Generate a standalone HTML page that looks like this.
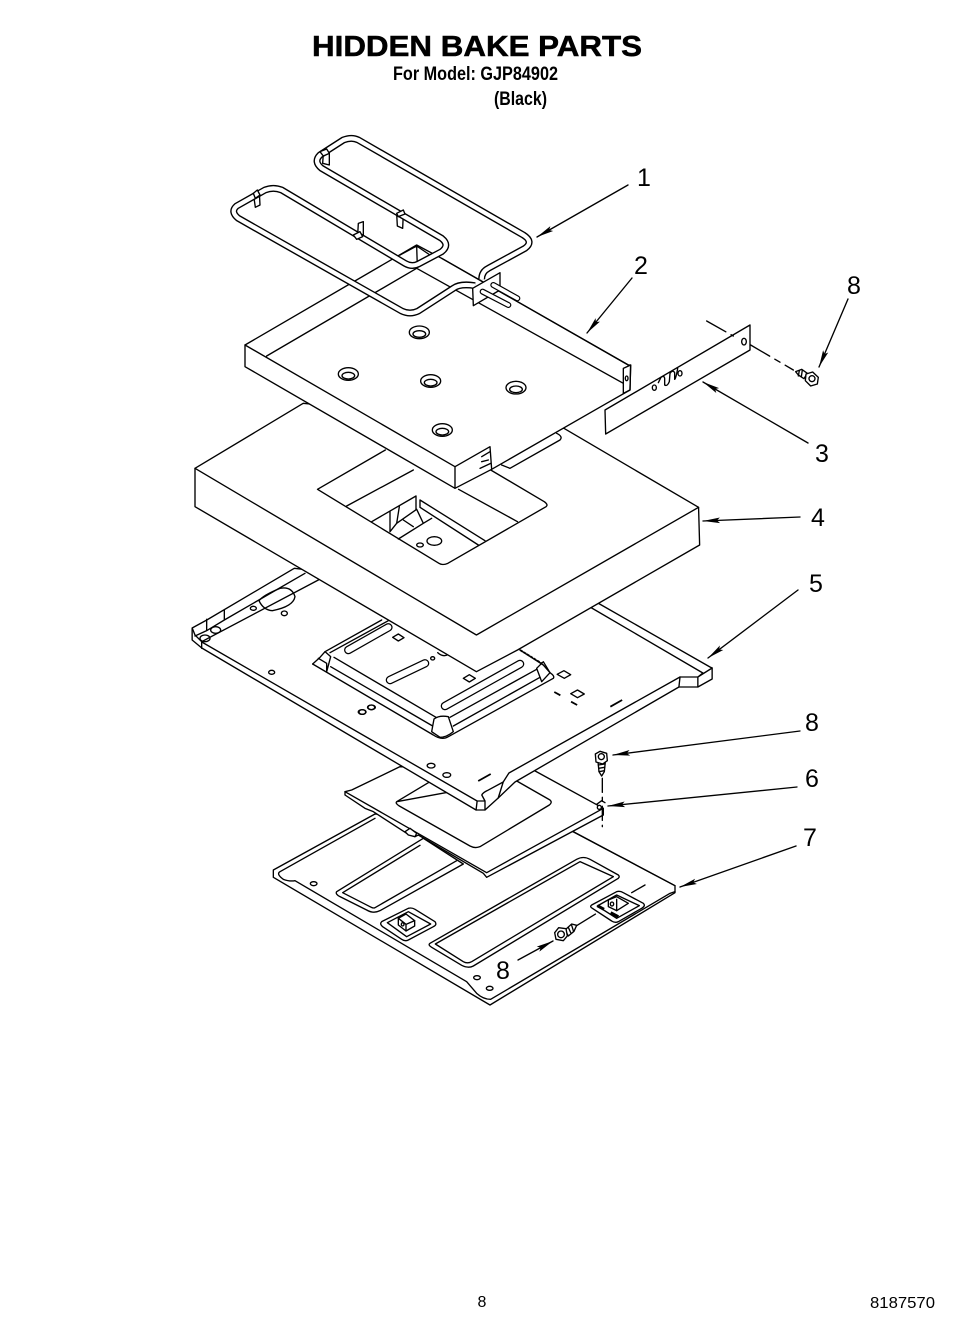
<!DOCTYPE html>
<html><head><meta charset="utf-8"><style>
html,body{margin:0;padding:0;background:#fff}
svg{display:block}
svg *{vector-effect:non-scaling-stroke}
.l{fill:none;stroke:#000;stroke-width:1.35;stroke-linejoin:round;stroke-linecap:round}
.w{fill:#fff;stroke:#000;stroke-width:1.35;stroke-linejoin:round}
text{font-family:"Liberation Sans",sans-serif;fill:#000}
.n{font-size:25px;text-anchor:middle}
</style></head><body>
<svg width="965" height="1333" viewBox="0 0 965 1333" xmlns="http://www.w3.org/2000/svg">
<defs>
<marker id="a" markerUnits="userSpaceOnUse" markerWidth="20" markerHeight="10" refX="19" refY="5" orient="auto">
<polygon points="2,2.2 19,5 2,7.8 5,5" fill="#000"/></marker>
</defs>
<rect width="965" height="1333" fill="#fff"/>

<text x="312" y="56" font-size="29" font-weight="bold" textLength="330" lengthAdjust="spacingAndGlyphs" stroke="#000" stroke-width=".5">HIDDEN BAKE PARTS</text>
<text x="393" y="80" font-size="19.5" font-weight="bold" textLength="165" lengthAdjust="spacingAndGlyphs">For Model: GJP84902</text>
<text x="494" y="105" font-size="19.5" font-weight="bold" textLength="53" lengthAdjust="spacingAndGlyphs">(Black)</text>
<text x="482" y="1307" font-size="16" text-anchor="middle">8</text>
<text x="870" y="1308" font-size="16" textLength="65" lengthAdjust="spacingAndGlyphs">8187570</text>

<!-- Part 7 -->
<g transform="translate(260,740) scale(.33333)">
<path class="w" d="M40,390 L345,222 L930,270 L1245,437 L1245,458 L690,795 L40,412 Z"/>
<path class="l" d="M345,235 L60,395 Q48,402 70,418 Q90,425 105,422 L620,725 L650,760 Q670,778 692,778 L1230,460 L1245,455"/>
<path class="l" d="M930,270 L1245,437"/>
<path class="w" d="M230,455 L490,295 L610,372 L360,512 Q340,522 320,510 L240,470 Q225,462 230,455 Z"/>
<path class="l" d="M248,458 L480,316 M345,503 Q340,506 330,500 L248,458 M345,503 L590,362"/>
<path class="w" d="M510,610 L950,358 Q970,347 990,358 L1075,405 Q1082,412 1070,418 L640,678 Q625,686 605,676 L515,622 Q503,615 510,610 Z"/>
<path class="l" d="M526,612 L960,365 L1060,410 L635,665 Q622,672 610,665 Z"/>
<path class="w" d="M365,545 L445,505 Q455,502 465,508 L525,545 Q532,555 520,560 L445,600 Q435,605 425,598 L368,560 Q358,552 365,545 Z"/>
<path class="l" d="M382,548 L445,515 L512,552 L440,590 Z"/>
<path class="w" d="M415,535 L438,522 L464,542 L464,558 L438,573 L415,555 Z"/>
<path class="l" d="M415,535 L438,553 L438,573 M438,553 L464,542"/><ellipse class="l" cx="428" cy="553" rx="4" ry="5"/>
<path class="w" d="M995,495 L1070,455 Q1080,452 1090,458 L1150,490 Q1158,497 1145,505 L1075,545 Q1065,550 1055,543 L997,505 Q988,500 995,495 Z"/>
<path class="l" d="M1012,498 L1070,465 L1138,497 L1070,535 Z"/>
<path class="w" d="M1045,480 L1070,470 L1105,490 L1070,512 L1045,500 Z"/>
<path class="l" d="M1070,478 L1070,512"/><ellipse class="l" cx="1056" cy="492" rx="5" ry="6"/>
<path d="M1012,497 L1032,508 M1052,518 L1075,530" stroke="#000" stroke-width="3" fill="none"/>
<ellipse class="l" cx="161" cy="431" rx="10" ry="6"/><ellipse class="l" cx="651" cy="713" rx="10" ry="6"/><ellipse class="l" cx="689" cy="745" rx="10" ry="6"/>
<path class="l" d="M945,560 L1010,520 M1115,458 L1155,435" stroke-dasharray="24 6 6 6"/>
</g>

<!-- Part 6 -->
<g transform="translate(260,740) scale(.33333)">
<path class="w" d="M255,155 L275,150 L420,80 L820,90 L1030,205 L1030,225 L680,412 L670,400 L475,285 L465,290 L440,280 L340,215 L315,205 L255,165 Z"/>
<path class="l" d="M255,155 L680,398 L1030,205"/>
<path class="l" d="M410,185 L510,125 M765,120 L870,180 Q878,187 868,195 L660,320 Q645,326 630,318 L418,198 Q405,190 410,185 Z"/>
<path class="w" d="M435,275 L450,265 L470,280 L465,290 L445,285 Z"/>
<circle class="w" cx="1018" cy="202" r="6"/><path class="l" d="M1010,193 L1025,182 L1035,188"/>
<path class="l" d="M1027,115 L1027,260" stroke-dasharray="14 5 4 5"/>
</g>

<!-- Part 5 -->
<g transform="translate(180,400) scale(.35714,.33333)">
<path class="w" d="M34,684 L75,660 L320,505 L1170,609 L1484,801 L1490,804 L1490,837 L1450,861 L1397,861 L938,1146 L891,1194 L854,1230 L829,1230 L61,744 L34,720 Z"/>
<path class="l" d="M61,726 L832,1203 L854,1203 L854,1230 M832,1203 L829,1230 M854,1203 L845,1185 Q848,1178 860,1172 L905,1146 L921,1119 L1400,831 M905,1146 L891,1194"/>
<path class="l" d="M1148,621 L1464,819 L1450,831 L1400,831 L1397,861 M1450,831 L1450,861 M1450,831 L1490,804"/>
<ellipse class="l" cx="510" cy="936" rx="11" ry="7"/><ellipse class="l" cx="536" cy="922" rx="11" ry="7"/>
<ellipse class="l" cx="703" cy="1097" rx="11" ry="7"/><ellipse class="l" cx="747" cy="1125" rx="11" ry="7"/>
<path class="l" d="M1075,812 L1094,824 L1076,835 L1056,823 Z M1113,870 L1132,882 L1113,893 L1094,881 Z"/>
<path d="M1048,876 L1065,886 M1095,905 L1112,915 M1205,920 L1238,900 M835,1143 L870,1122" stroke="#000" stroke-width="1.8" fill="none"/>
</g>
<!-- Part 5 left rail -->
<g transform="translate(185,560) scale(.33333)">
<path class="l" d="M22,205 L30,225 L50,245 L50,265"/>
<path class="l" d="M65,178 L65,212 M118,150 L118,180 M65,212 L30,228 M65,212 L118,180 L360,40 M50,245 L400,60"/>
<path class="l" d="M222,122 Q235,105 285,85 Q320,78 330,110 Q325,140 262,152 Q235,150 222,122 Z"/>
<ellipse class="l" cx="92" cy="210" rx="15" ry="10"/><ellipse class="l" cx="60" cy="235" rx="15" ry="10"/>
<ellipse class="l" cx="205" cy="145" rx="9" ry="6"/><ellipse class="l" cx="298" cy="160" rx="9" ry="7"/><ellipse class="l" cx="260" cy="337" rx="9" ry="6"/>
</g>
<!-- Part 5 recessed panel -->
<g transform="translate(310,620) scale(.33333)">
<path class="l" d="M8,132 L30,112 L45,95 L215,0 M60,98 L235,2"/>
<path class="l" d="M8,132 L370,345 Q395,362 415,350 L730,175 Q735,168 720,158 L700,135 L630,90"/>
<path class="l" d="M62,140 L368,318 M72,112 L385,296 M430,318 L690,172 M420,292 L680,148"/>
<path class="l" d="M25,115 L50,130 L50,155 M45,95 L62,110 L50,155 M680,145 L695,185 M680,145 L700,125 L720,158 M695,185 L720,158"/>
<path class="w" d="M372,297 Q388,285 415,290 L430,335 Q410,352 390,352 L365,335 Z"/>
<path d="M630,90 L695,130" stroke="#000" stroke-width="1.8" fill="none" stroke-dasharray="3 1"/>
<g stroke-linecap="round" fill="none">
<path d="M115,90 L235,22 M240,180 L345,130 M405,258 L630,132" stroke="#000" stroke-width="8.5"/>
<path d="M115,90 L235,22 M240,180 L345,130 M405,258 L630,132" stroke="#fff" stroke-width="6"/>
</g>
<path class="l" d="M265,42 L282,53 L265,63 L248,52 Z M478,164 L496,175 L478,186 L460,175 Z"/>
<ellipse cx="368" cy="115" rx="6" ry="5" class="l"/>
<path class="l" d="M383,98 Q398,112 414,104"/>
<ellipse class="l" cx="157" cy="276" rx="10" ry="7"/><ellipse class="l" cx="184" cy="262" rx="10" ry="7"/>
</g>

<!-- Part 4 -->
<g transform="translate(180,400) scale(.35714,.33333)">
<path class="w" d="M42,205 L345,10 L1075,85 L1452,322 L1455,435 L945,750 L830,815 L42,320 Z"/>
<path class="l" d="M42,205 L830,705 L1452,322"/>
<path class="l" d="M575,150 L385,268 L725,490 Q735,497 750,490 L1025,320 Q1032,314 1020,305 L870,210"/>
<path class="l" d="M780,268 L945,365"/>
</g>
<g transform="translate(340,470) scale(.33333)">
<path class="l" d="M20,108 L220,0"/>
<path class="l" d="M95,155 L228,78 L228,118 M240,90 L240,112 M240,90 L435,212 M240,112 L415,225"/>
<path class="l" d="M150,125 L150,185 M178,110 L170,160 L150,185 M190,150 L220,170 M230,118 L250,160 L175,207 M170,160 L230,118 M250,160 L275,145"/>
<ellipse class="l" cx="283" cy="213" rx="22" ry="13"/><ellipse class="l" cx="240" cy="225" rx="10" ry="6"/>
</g>

<!-- Part 2 -->
<g transform="translate(180,120) scale(.33333)">
<path class="l" d="M965,1035 L990,1045 L1140,960 Q1150,950 1130,940"/>
<path class="w" d="M195,675 L710,375 L785,415 L1345,735 L1352,735 L1350,810 L1280,850 L935,1048 L825,1105 L195,740 Z"/>
<path class="l" d="M195,675 L825,1040 L825,1105 M825,1040 L930,980 L935,1048 M260,708 L710,445 L1330,790 M785,415 L1345,735 M660,405 L710,378 L750,405 M710,378 L712,440"/>
<path class="l" d="M1330,745 L1352,735 L1350,810 L1330,820 Z"/><ellipse class="l" cx="1340" cy="775" rx="4" ry="7"/>
<path class="l" d="M905,1010 L930,995 M905,1025 L925,1020 M900,1045 L932,1030" stroke-width="2"/>
<ellipse class="l" cx="718" cy="637" rx="30" ry="19"/><ellipse class="l" cx="718" cy="642" rx="19" ry="10"/>
<ellipse class="l" cx="505" cy="762" rx="30" ry="19"/><ellipse class="l" cx="505" cy="767" rx="19" ry="10"/>
<ellipse class="l" cx="752" cy="783" rx="30" ry="19"/><ellipse class="l" cx="752" cy="788" rx="19" ry="10"/>
<ellipse class="l" cx="1008" cy="803" rx="30" ry="19"/><ellipse class="l" cx="1008" cy="808" rx="19" ry="10"/>
<ellipse class="l" cx="787" cy="930" rx="30" ry="19"/><ellipse class="l" cx="787" cy="935" rx="19" ry="10"/>

<!-- Heater -->
<path class="l" d="M220,220 L226,262 L240,255 L238,218 M535,310 L533,345 L550,348 L550,305 Z M650,280 L652,318 L668,325 L670,280 M430,100 L428,130 L448,135 L448,95"/>
<g fill="none" stroke-linejoin="round" stroke-linecap="butt">
<path d="M905,478 Q905,455 925,445 L1035,385 Q1062,365 1030,345 L535,60 Q515,50 490,60 L420,105 Q400,125 425,145 L785,355 Q810,375 785,395 L715,432 Q695,442 675,430 L305,210 Q280,200 255,210 L170,258 Q150,275 175,295 L665,573 Q690,585 715,573 L820,505 Q840,490 885,497" stroke="#000" stroke-width="7"/>
<path d="M905,478 Q905,455 925,445 L1035,385 Q1062,365 1030,345 L535,60 Q515,50 490,60 L420,105 Q400,125 425,145 L785,355 Q810,375 785,395 L715,432 Q695,442 675,430 L305,210 Q280,200 255,210 L170,258 Q150,275 175,295 L665,573 Q690,585 715,573 L820,505 Q840,490 885,497" stroke="#fff" stroke-width="4.2"/>
</g>
<path class="w" d="M220,220 L232,210 L240,225 L226,235 Z M520,345 L540,335 L548,350 L530,358 Z M420,95 L440,87 L448,100 L430,108 Z M650,280 L670,270 L675,282 L655,290 Z"/>
<path class="w" d="M878,505 L960,458 L960,510 L880,557 Z"/>
<g stroke-linecap="round" fill="none">
<path d="M908,515 L985,555 M940,495 L1012,535" stroke="#000" stroke-width="6"/>
<path d="M908,515 L985,555 M940,495 L1012,535" stroke="#fff" stroke-width="3.6"/>
</g>
</g>

<!-- Part 3 -->
<g transform="translate(590,260) scale(.33333)">
<path class="w" d="M45,450 L480,195 L480,270 L47,522 Z"/>
<ellipse class="l" cx="462" cy="245" rx="7" ry="10"/><ellipse class="l" cx="193" cy="383" rx="6" ry="8"/><ellipse class="l" cx="270" cy="340" rx="6" ry="8"/>
<path class="l" d="M205,368 L213,352 Q222,345 224,355 L224,375 Q232,380 238,365 L240,340 Q248,328 254,338 L254,358 Q258,355 263,325"/>
<path class="l" d="M350,183 L430,228" stroke-dasharray="22 6 6 6"/>
<path class="l" d="M482,255 L610,330" stroke-dasharray="22 6 6 6"/>
<path class="w" d="M617,335 L635,328 L652,340 L642,356 L625,345 Z"/>
<path class="l" d="M628,332 L625,348 M637,330 L634,350"/>
<path class="w" d="M648,342 L668,336 L685,352 L682,372 L662,378 L646,362 Z"/>
<circle class="l" cx="666" cy="356" r="9"/>
</g>
<!-- Screws mid and low -->
<g transform="translate(260,740) scale(.33333)">
<path class="w" d="M1014,65 L1036,65 L1033,95 L1025,108 L1017,95 Z"/>
<path class="l" d="M1015,75 L1035,72 M1016,85 L1034,82 M1017,95 L1033,92"/>
<path class="w" d="M1006,42 L1020,34 L1040,40 L1042,62 L1028,72 L1008,66 Z"/>
<circle class="l" cx="1024" cy="50" r="9"/>
<path class="w" d="M915,570 L935,552 L950,556 L942,574 L925,588 Z"/>
<path class="l" d="M925,562 L932,578 M935,556 L940,572"/>
<path class="w" d="M884,578 L896,563 L918,566 L922,588 L910,602 L888,598 Z"/>
<circle class="l" cx="903" cy="583" r="10"/>
</g>

<!-- Arrows -->
<g class="l">
<line x1="628" y1="185" x2="537" y2="237" marker-end="url(#a)"/>
<line x1="632" y1="278" x2="587" y2="333" marker-end="url(#a)"/>
<line x1="848" y1="299" x2="819" y2="367" marker-end="url(#a)"/>
<line x1="808" y1="443" x2="703" y2="382" marker-end="url(#a)"/>
<line x1="800" y1="517" x2="703" y2="521" marker-end="url(#a)"/>
<line x1="798" y1="590" x2="708" y2="658" marker-end="url(#a)"/>
<line x1="800" y1="731" x2="613" y2="755" marker-end="url(#a)"/>
<line x1="797" y1="787" x2="608" y2="806" marker-end="url(#a)"/>
<line x1="796" y1="846" x2="680" y2="887" marker-end="url(#a)"/>
<line x1="518" y1="960" x2="553" y2="941" marker-end="url(#a)"/>
</g>

<text class="n" x="644" y="186">1</text>
<text class="n" x="641" y="274">2</text>
<text class="n" x="854" y="294">8</text>
<text class="n" x="822" y="462">3</text>
<text class="n" x="818" y="526">4</text>
<text class="n" x="816" y="592">5</text>
<text class="n" x="812" y="731">8</text>
<text class="n" x="812" y="787">6</text>
<text class="n" x="810" y="846">7</text>
<text class="n" x="503" y="979">8</text>
</svg>
</body></html>
